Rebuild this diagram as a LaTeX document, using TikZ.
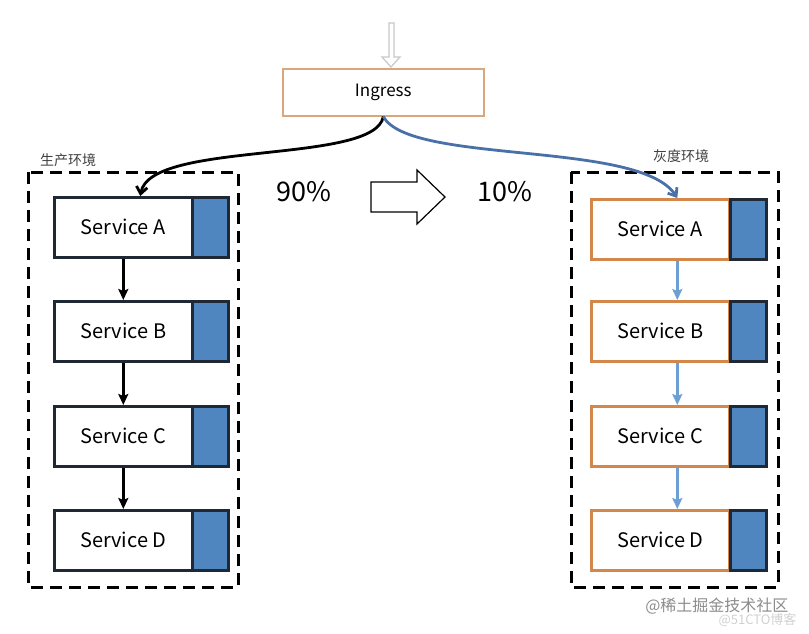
\documentclass[tikz,border=0pt]{standalone}
\usepackage{fontspec}
\setmainfont{Noto Sans CJK SC}
\usetikzlibrary{arrows.meta,positioning}
\definecolor{svcblue}{HTML}{4F86C0}
\definecolor{darkb}{HTML}{1E2935}
\definecolor{orangeb}{HTML}{D4874A}
\definecolor{ingb}{HTML}{D9A77A}
\definecolor{curveblue}{HTML}{4A70A8}
\definecolor{lightblue}{HTML}{6E9FD3}
\tikzset{
  whitebox/.style={draw=#1, line width=2.6pt, minimum width=138pt, minimum height=60pt, inner sep=0pt, font=\fontsize{20}{22}\selectfont, anchor=north west},
  bluebox/.style={draw=darkb, fill=svcblue, line width=2.6pt, minimum width=36pt, minimum height=60pt, inner sep=0pt, anchor=north west},
  envbox/.style={draw=black, line width=3pt, dash pattern=on 12pt off 7pt},
  envlabel/.style={font=\fontsize{14}{16}\selectfont, text=black!75},
  pct/.style={font=\fontsize{27}{30}\selectfont},
  blackarrow/.style={-{Stealth[length=11pt,width=10pt,inset=2pt]}, line width=2.6pt, black},
  bluearrow/.style={-{Stealth[length=11pt,width=10pt,inset=2pt]}, line width=2.6pt, lightblue},
  curvearrow/.style={-{Straight Barb[length=7pt,width=11pt]}, line width=2.8pt},
}
\begin{document}
\begin{tikzpicture}[x=1pt,y=-1pt]
\useasboundingbox (0,0) rectangle (809,633);
% environments
\draw[envbox] (28,172) rectangle (238,587);
\draw[envbox] (571,172) rectangle (778,587);
\node[envlabel] (lenv) at (68,160) {生产环境};
\node[envlabel] (renv) at (681,156) {灰度环境};
% ingress
\node[draw=ingb, line width=1.6pt, minimum width=201pt, minimum height=47pt, anchor=north west, font=\fontsize{17}{19}\selectfont] (ing) at (282,68) {Ingress};
\coordinate (ingtop) at (391,23);
\draw[black!22, line width=1.2pt] (389,23) -- (389,57) -- (382,57) -- (391,67) -- (400,57) -- (394,57) -- (394,23) -- cycle;
% left services
\foreach \n/\y/\t in {la/196/A, lb/300/B, lc/405/C, ld/509/D}{
  \node[whitebox=darkb] (\n) at (53,\y) {Service \t};
  \node[bluebox] (\n b) at (191,\y) {};
}
% right services
\foreach \n/\y/\t in {ra/198/A, rb/300/B, rc/405/C, rd/509/D}{
  \node[whitebox=orangeb] (\n) at (590,\y) {Service \t};
  \node[bluebox] (\n b) at (729,\y) {};
}
% left arrows
\draw[blackarrow] (la.south) -- (lb.north);
\draw[blackarrow] (lb.south) -- (lc.north);
\draw[blackarrow] (lc.south) -- (ld.north);
% right arrows
\draw[bluearrow] ([xshift=17pt]ra.south) -- ([xshift=17pt]rb.north);
\draw[bluearrow] ([xshift=17pt]rb.south) -- ([xshift=17pt]rc.north);
\draw[bluearrow] ([xshift=17pt]rc.south) -- ([xshift=17pt]rd.north);
% curves
\draw[curvearrow, black] (ing.south) .. controls (375,165) and (150,140) .. ([xshift=17pt]la.north);
\draw[curvearrow, curveblue] (ing.south) .. controls (410,165) and (640,140) .. ([xshift=17pt]ra.north);
% percentages and big arrow
\node[pct] (p90) at (304,192) {90\%};
\node[pct] (p10) at (505,192) {10\%};
\draw[black, line width=1.2pt] (371,182) -- (417,182) -- (417,170) -- (445,197) -- (417,224) -- (417,212) -- (371,212) -- cycle;
% watermark
\node[font=\fontsize{16}{18}\selectfont, text=black!45, anchor=east] (wm) at (792,606) {@稀土掘金技术社区};
\node[font=\fontsize{13}{15}\selectfont, text=black!18, anchor=east] (wm2) at (800,620) {@51CTO博客};
\end{tikzpicture}
\end{document}
